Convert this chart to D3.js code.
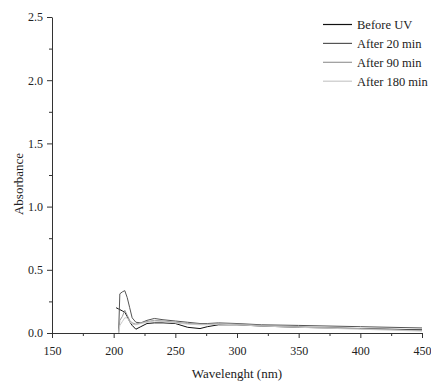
<!DOCTYPE html>
<html>
<head>
<meta charset="utf-8">
<script src="https://cdn.jsdelivr.net/npm/d3@7"></script>
<style>
	body { margin: 0; background: #fff; }
	svg text { font-family: "Liberation Serif", "Times New Roman", serif; fill: #222; }
	.axis path, .axis line { stroke: #333; }
</style>
</head>
<body>
<div id="graphic"></div>
<script>
// wavelengths shared by all spectra (nm)
const wavelength = [202, 204, 205, 207, 209, 211, 213, 215, 218, 222, 227, 233, 240, 250, 260, 270, 276, 285, 300, 320, 350, 400, 450];

const beforeUV = [0.20, 0.19, 0.185, 0.175, 0.165, 0.13, 0.09, 0.06, 0.03, 0.05, 0.075, 0.08, 0.08, 0.075, 0.045, 0.035, 0.05, 0.065, 0.065, 0.055, 0.045, 0.035, 0.025];
const after20 = [null, 0, 0.31, 0.325, 0.335, 0.28, 0.20, 0.12, 0.085, 0.08, 0.10, 0.115, 0.105, 0.095, 0.085, 0.075, 0.075, 0.08, 0.075, 0.065, 0.06, 0.05, 0.04];
const after90 = [null, 0, 0.10, 0.13, 0.18, 0.14, 0.10, 0.08, 0.07, 0.08, 0.09, 0.10, 0.095, 0.085, 0.075, 0.07, 0.07, 0.075, 0.07, 0.06, 0.05, 0.035, 0.02];
const after180 = [null, 0, 0.06, 0.09, 0.12, 0.12, 0.09, 0.07, 0.065, 0.075, 0.085, 0.095, 0.09, 0.08, 0.07, 0.065, 0.065, 0.07, 0.065, 0.055, 0.045, 0.03, 0.015];

const seriesNames = ['Before UV', 'After 20 min', 'After 90 min', 'After 180 min'];
const seriesValues = [beforeUV, after20, after90, after180];
const seriesColours = ['#111', '#555', '#999', '#c8c8c8'];

const xTicks = [150, 200, 250, 300, 350, 400, 450];
const yTicks = [0, 0.5, 1.0, 1.5, 2.0, 2.5];

const width = 431, height = 383;
const margin = { top: 17, right: 9, bottom: 50, left: 52 };

const svg = d3.select('#graphic').append('svg')
	.attr('width', width)
	.attr('height', height);

const x = d3.scaleLinear().domain([150, 450]).range([margin.left, width - margin.right]);
const y = d3.scaleLinear().domain([0, 2.5]).range([height - margin.bottom, margin.top]);

// minor ticks first, then the major axis on top
svg.append('g')
	.attr('class', 'axis')
	.attr('transform', `translate(0,${y(0)})`)
	.call(d3.axisBottom(x).tickValues(d3.range(175, 450, 50)).tickSize(3).tickFormat(''))
	.call(g => g.select('.domain').remove());

svg.append('g')
	.attr('class', 'axis')
	.attr('transform', `translate(${x(150)},0)`)
	.call(d3.axisLeft(y).tickValues(d3.range(0.25, 2.5, 0.5)).tickSize(3).tickFormat(''))
	.call(g => g.select('.domain').remove());

svg.append('g')
	.attr('class', 'axis')
	.attr('transform', `translate(0,${y(0)})`)
	.call(d3.axisBottom(x).tickValues(xTicks).tickSize(5).tickSizeOuter(0).tickPadding(8))
	.call(g => g.selectAll('text').attr('font-size', 12).attr('fill', '#222'));

svg.append('g')
	.attr('class', 'axis')
	.attr('transform', `translate(${x(150)},0)`)
	.call(d3.axisLeft(y).tickValues(yTicks).tickSize(5).tickSizeOuter(0).tickPadding(4).tickFormat(d3.format('.1f')))
	.call(g => g.selectAll('text').attr('font-size', 12).attr('fill', '#222'));

// spectra
seriesValues.forEach((vals, i) => {
	const line = d3.line()
		.defined((d) => d != null)
		.x((d, j) => x(wavelength[j]))
		.y((d) => y(d));

	svg.append('path')
		.datum(vals)
		.attr('fill', 'none')
		.attr('stroke', seriesColours[i])
		.attr('stroke-width', 1)
		.attr('d', line);
});

// legend
const legend = svg.append('g').attr('transform', 'translate(323,24.5)');
seriesNames.forEach((name, i) => {
	const row = legend.append('g').attr('transform', `translate(0,${i * 18.9})`);
	row.append('line')
		.attr('x1', 0).attr('x2', 29)
		.attr('stroke', seriesColours[i])
		.attr('stroke-width', 1.2);
	row.append('text')
		.attr('x', 34)
		.attr('dy', '0.35em')
		.attr('font-size', 12.5)
		.text(name);
});

// axis titles
svg.append('text')
	.attr('x', (x(150) + x(450)) / 2)
	.attr('y', 378)
	.attr('text-anchor', 'middle')
	.attr('font-size', 13)
	.text('Wavelenght (nm)');

svg.append('text')
	.attr('transform', 'translate(18,184) rotate(-90)')
	.attr('text-anchor', 'middle')
	.attr('dy', '0.35em')
	.attr('font-size', 13)
	.text('Absorbance');
</script>
</body>
</html>
